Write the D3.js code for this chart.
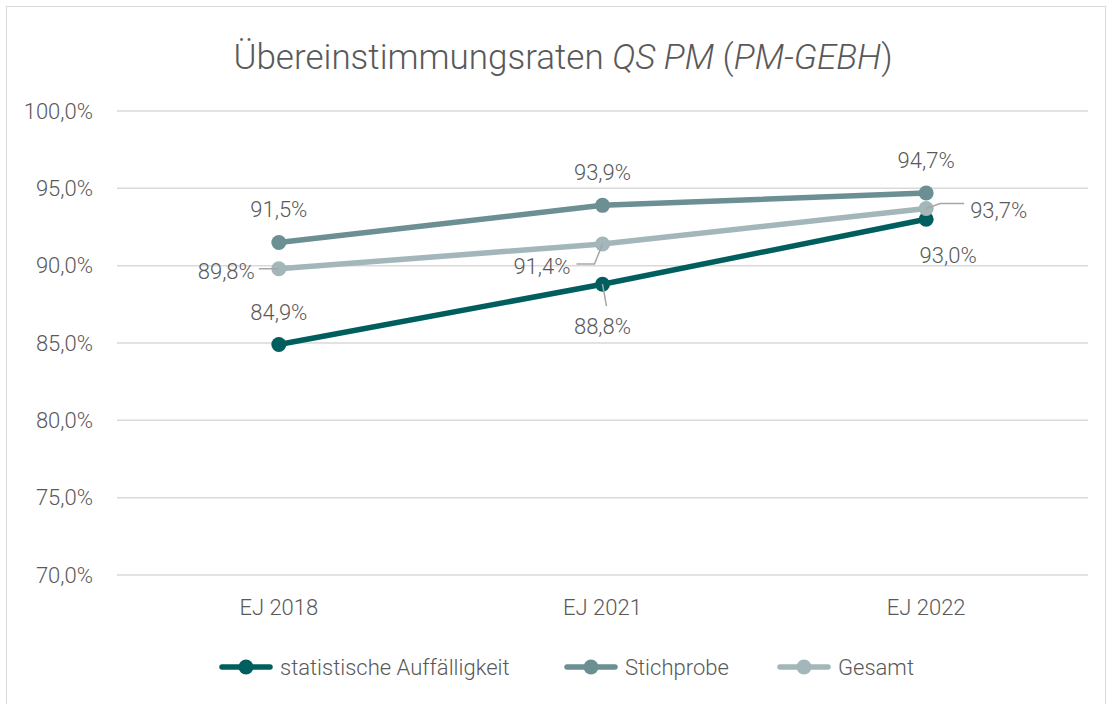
<!DOCTYPE html>
<html>
<head>
<meta charset="utf-8">
<script src="https://cdn.jsdelivr.net/npm/d3@7"></script>
<style>
  body { margin: 0; background: #fff; }
  text { font-family: Roboto, "Noto Sans", sans-serif; font-weight: 300; fill: #595959; }
</style>
</head>
<body>
<div id="chart"></div>
<script>
// data
var categories = ["EJ 2018", "EJ 2021", "EJ 2022"];
var seriesNames = ["statistische Auffälligkeit", "Stichprobe", "Gesamt"];
var statAuff = [84.9, 88.8, 93.0];
var stichprobe = [91.5, 93.9, 94.7];
var gesamt = [89.8, 91.4, 93.7];
var yTicks = [70, 75, 80, 85, 90, 95, 100];
var colors = ["#005f5e", "#6b8f93", "#a3b6b9"];

var svgWidth = 1112;
var svgHeight = 704;
var margin = { top: 111, right: 24, bottom: 129, left: 117 };
var width = svgWidth - margin.left - margin.right;
var height = svgHeight - margin.top - margin.bottom;

var svg = d3.select("#chart")
  .append("svg")
  .attr("width", svgWidth)
  .attr("height", svgHeight);

// chart frame
svg.append("rect")
  .attr("x", 6.5).attr("y", 6.5)
  .attr("width", 1099).attr("height", 720)
  .attr("fill", "none")
  .attr("stroke", "#d9d9d9");

// title
var title = svg.append("text")
  .attr("x", 563).attr("y", 69)
  .attr("text-anchor", "middle")
  .style("font-size", "35px");
title.append("tspan").text("Übereinstimmungsraten ");
title.append("tspan").style("font-style", "italic").text("QS PM");
title.append("tspan").text(" (");
title.append("tspan").style("font-style", "italic").text("PM-GEBH");
title.append("tspan").text(")");

var chartGroup = svg.append("g")
  .attr("transform", `translate(${margin.left}, ${margin.top})`);

var xScale = d3.scaleBand()
  .domain(categories)
  .range([0, width]);

var yScale = d3.scaleLinear()
  .domain([70, 100])
  .range([height, 0]);

// gridlines
chartGroup.selectAll(".grid")
  .data(yTicks)
  .enter()
  .append("line")
  .attr("x1", 0).attr("x2", width)
  .attr("y1", d => yScale(d)).attr("y2", d => yScale(d))
  .attr("stroke", "#d9d9d9")
  .attr("stroke-width", 1.5);

// y axis
var leftAxis = d3.axisLeft(yScale)
  .tickValues(yTicks)
  .tickSize(0)
  .tickPadding(24)
  .tickFormat(d => d3.format(".1f")(d).replace(".", ",") + "%");
var yAxis = chartGroup.append("g").call(leftAxis);
yAxis.select(".domain").remove();
yAxis.selectAll("text").style("font-size", "22px").attr("fill", "#595959");

// x axis
var bottomAxis = d3.axisBottom(xScale).tickSize(0).tickPadding(24);
var xAxis = chartGroup.append("g")
  .attr("transform", `translate(0, ${height})`)
  .call(bottomAxis);
xAxis.select(".domain").remove();
xAxis.selectAll("text").style("font-size", "22px").attr("fill", "#595959");

var cx = d => xScale(d) + xScale.bandwidth() / 2;

var allSeries = [statAuff, stichprobe, gesamt];
var line = d3.line()
  .x((d, i) => cx(categories[i]))
  .y(d => yScale(d));

// draw from back to front: Gesamt over Stichprobe over stat
var order = [1, 0, 2];
order.forEach(function(s) {
  chartGroup.append("path")
    .datum(allSeries[s])
    .attr("fill", "none")
    .attr("stroke", colors[s])
    .attr("stroke-width", 5.5)
    .attr("stroke-linecap", "round")
    .attr("d", line);
  chartGroup.selectAll(".pt" + s)
    .data(allSeries[s])
    .enter()
    .append("circle")
    .attr("cx", (d, i) => cx(categories[i]))
    .attr("cy", d => yScale(d))
    .attr("r", 7.5)
    .attr("fill", colors[s]);
});

// data labels: offsets [dx, dy, anchor, leader]
var labelPos = [
  [[0, -25, "middle", null], [0, 50, "middle", [[0, 0], [4, 22]]], [22, 44, "middle", null]],
  [[0, -25, "middle", null], [0, -25, "middle", null], [0, -25, "middle", null]],
  [[-24, 10, "end", [[0, 0], [-20, 0]]], [-32, 30, "end", [[0, 0], [-8, 20], [-26, 20]]], [44, 10, "start", [[0, 0], [14, -5], [38, -5]]]]
];

var fmt = d => d3.format(".1f")(d).replace(".", ",") + "%";

allSeries.forEach(function(vals, s) {
  vals.forEach(function(v, i) {
    var p = labelPos[s][i];
    var x0 = cx(categories[i]);
    var y0 = yScale(v);
    if (p[3]) {
      chartGroup.append("path")
        .attr("d", d3.line()(p[3].map(q => [x0 + q[0], y0 + q[1]])))
        .attr("fill", "none")
        .attr("stroke", "#a6a6a6")
        .attr("stroke-width", 1.5);
    }
    chartGroup.append("text")
      .attr("x", x0 + p[0])
      .attr("y", y0 + p[1])
      .attr("text-anchor", p[2])
      .style("font-size", "22px")
      .text(fmt(v));
  });
});

// legend
var legendX = [222, 567, 780];
var legend = svg.append("g").attr("transform", "translate(0, 667)");
seriesNames.forEach(function(name, s) {
  var g = legend.append("g").attr("transform", `translate(${legendX[s]}, 0)`);
  g.append("line")
    .attr("x1", 0).attr("x2", 48)
    .attr("stroke", colors[s])
    .attr("stroke-width", 5.5)
    .attr("stroke-linecap", "round");
  g.append("circle")
    .attr("cx", 24).attr("r", 7.5)
    .attr("fill", colors[s]);
  g.append("text")
    .attr("x", 58).attr("y", 8)
    .style("font-size", "22px")
    .text(name);
});
</script>
</body>
</html>
